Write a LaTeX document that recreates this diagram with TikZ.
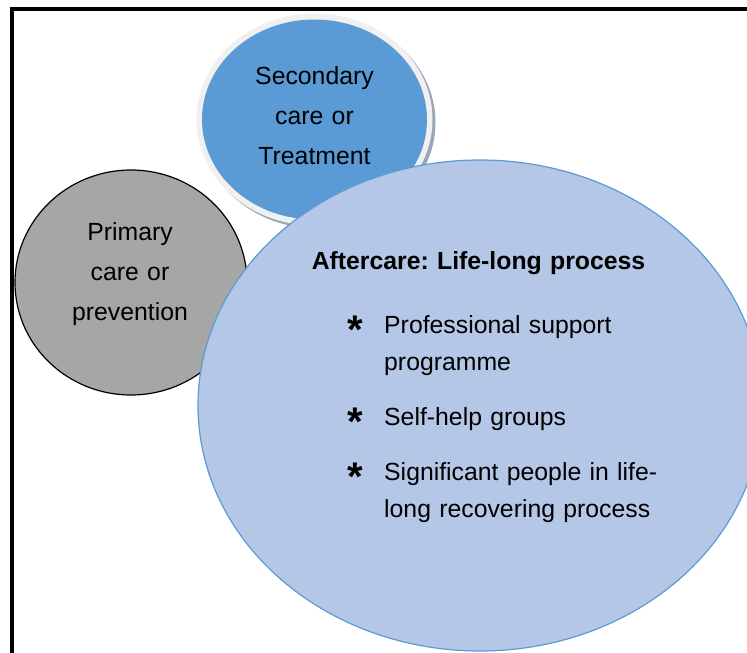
\documentclass[tikz,border=0pt]{standalone}
\usepackage{fontspec}
\setmainfont{Liberation Sans}
\usetikzlibrary{shapes.geometric}
\frenchspacing

\definecolor{secblue}{HTML}{5B9BD5}
\definecolor{aftfill}{HTML}{B4C7E7}
\definecolor{primgray}{HTML}{A6A6A6}
\definecolor{ringgray}{HTML}{F0F0F0}
\definecolor{shadowgray}{HTML}{9AA6B4}

\tikzset{
  blob/.style={ellipse, inner sep=0pt, outer sep=0pt},
  caption/.style={inner sep=0pt, anchor=base, text width=240pt, align=center,
    font=\fontsize{24.8}{40}\selectfont},
  heading/.style={inner sep=0pt, anchor=base, text width=360pt, align=center,
    font=\fontsize{24.8}{40}\selectfont\bfseries},
  itemtext/.style={inner sep=0pt, anchor=base west, text width=300pt, align=left,
    font=\fontsize{24.8}{37}\selectfont},
  star/.style={inner sep=0pt, anchor=base, font=\fontsize{40}{40}\selectfont\bfseries},
}

\begin{document}
\begin{tikzpicture}[x=1pt, y=-1pt]
  \useasboundingbox (0,0) rectangle (747,653);

  % page frame (left and top edges)
  \draw[line width=4.3pt, line join=miter] (12,660) -- (12,9) -- (760,9);

  % primary care circle
  \node[blob, draw=black, line width=1.2pt, fill=primgray,
        minimum width=232pt, minimum height=225pt] (prim) at (131,282.5) {};

  % secondary care circle: shadow, light ring, blue face
  \node[blob, fill=shadowgray, minimum width=236pt, minimum height=212pt]
        (secshadow) at (317.5,122.5) {};
  \node[blob, fill=ringgray, minimum width=236pt, minimum height=212pt]
        (secring) at (314.5,119.5) {};
  \node[blob, fill=secblue, minimum width=225pt, minimum height=200pt]
        (sec) at (314.5,119.5) {};

  % aftercare ellipse
  \node[blob, draw=secblue, line width=1.2pt, fill=aftfill,
        minimum width=564pt, minimum height=491pt] (after) at (480,405.5) {};

  % labels
  \node[caption] (seclabel) at (314.5,84) {Secondary\\care or\\Treatment};
  \node[caption] (primlabel) at (130,240) {Primary\\care or\\prevention};
  \node[heading] (afterlabel) at (478.5,269) {Aftercare: Life-long process};

  % bullet items
  \node[star] (s1) at (355,343) {*};
  \node[itemtext] (i1) at (384,333) {Professional support\\programme};
  \node[star] (s2) at (355,435) {*};
  \node[itemtext] (i2) at (384,425) {Self-help groups};
  \node[star] (s3) at (355,490) {*};
  \node[itemtext] (i3) at (384,480) {Significant people in life-\\long recovering process};
\end{tikzpicture}
\end{document}
